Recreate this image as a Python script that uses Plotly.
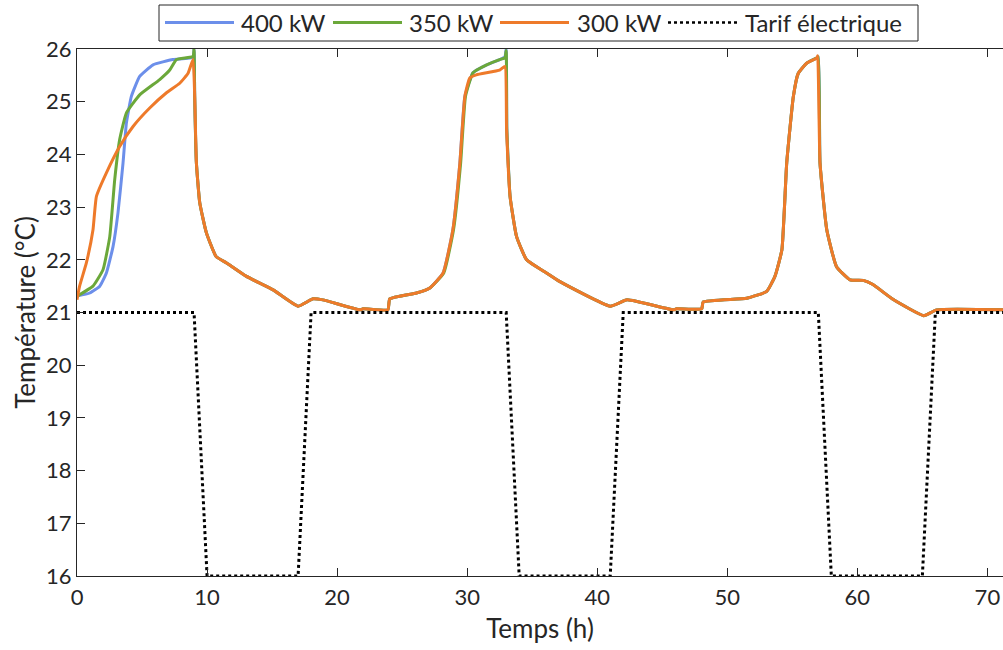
import plotly.graph_objects as go

# ---- data ----
t_400 = [0, 0.98, 1.75, 2.26, 2.77, 3.15, 3.54, 3.8, 4.18, 4.82, 5.85, 7.38, 8.92, 9.0,
         9.05, 9.18, 9.44, 9.95, 10.7, 11.5, 13.0, 15.08, 17.0, 18.15, 18.9, 21.75, 22.0, 23.9, 24.05,
         26.1, 27.1, 28.15, 28.9, 29.44, 29.82, 30.45, 31.5, 32.5, 32.9, 33.0,
         33.05, 33.3, 33.8, 34.57, 36.1, 37.1, 41.0, 42.3, 45.85, 46.1, 48.03, 48.15,
         51.5, 53.03, 53.67, 54.2, 54.57, 55.08, 55.46, 56.1, 56.88, 57.0,
         57.13, 57.65, 58.4, 59.44, 60.46, 61.2, 62.8, 65.1, 66.1, 71.5]
y_400 = [21.31, 21.37, 21.5, 21.75, 22.25, 22.89, 23.84, 24.6, 25.1, 25.48, 25.70, 25.8, 25.84, 25.99,
         25.1, 23.84, 23.08, 22.51, 22.06, 21.94, 21.69, 21.43, 21.12, 21.26, 21.24, 21.05, 21.07, 21.05, 21.26,
         21.37, 21.46, 21.75, 22.57, 23.84, 25.1, 25.55, 25.7, 25.8, 25.85, 26.0,
         24.47, 23.2, 22.44, 22.0, 21.75, 21.59, 21.12, 21.24, 21.05, 21.07, 21.07, 21.2,
         21.27, 21.4, 21.69, 22.19, 23.84, 25.1, 25.54, 25.73, 25.83, 25.85,
         23.84, 22.57, 21.87, 21.62, 21.61, 21.53, 21.24, 20.94, 21.05, 21.05]

t_350 = [0, 1.23, 2.0, 2.52, 2.9, 3.28, 3.8, 4.82, 6.36, 7.13, 7.65, 8.92, 9.0,
         9.05, 9.18, 9.44, 9.95, 10.7, 11.5, 13.0, 15.08, 17.0, 18.15, 18.9, 21.75, 22.0, 23.9, 24.05,
         26.1, 27.1, 28.2, 28.95, 29.5, 29.87, 30.45, 31.5, 32.5, 32.9, 33.0,
         33.05, 33.3, 33.8, 34.57, 36.1, 37.1, 41.0, 42.3, 45.85, 46.1, 48.03, 48.15,
         51.5, 53.03, 53.67, 54.2, 54.57, 55.08, 55.46, 56.1, 56.88, 57.0,
         57.13, 57.65, 58.4, 59.44, 60.46, 61.2, 62.8, 65.1, 66.1, 71.5]
y_350 = [21.31, 21.5, 21.81, 22.44, 23.52, 24.28, 24.79, 25.13, 25.42, 25.6, 25.8, 25.86, 25.99,
         25.1, 23.84, 23.08, 22.51, 22.06, 21.94, 21.69, 21.43, 21.12, 21.26, 21.24, 21.05, 21.07, 21.05, 21.26,
         21.37, 21.46, 21.75, 22.57, 23.84, 25.1, 25.55, 25.7, 25.8, 25.83, 25.97,
         24.47, 23.2, 22.44, 22.0, 21.75, 21.59, 21.12, 21.24, 21.05, 21.07, 21.07, 21.2,
         21.27, 21.4, 21.69, 22.19, 23.84, 25.1, 25.54, 25.73, 25.83, 25.85,
         23.84, 22.57, 21.87, 21.62, 21.61, 21.53, 21.24, 20.94, 21.05, 21.05]

t_300 = [0, 0.2, 0.72, 1.23, 1.49, 2.26, 3.28, 4.31, 5.59, 6.88, 7.9, 8.54, 8.92,
         9.05, 9.18, 9.44, 9.95, 10.7, 11.5, 13.0, 15.08, 17.0, 18.15, 18.9, 21.75, 22.0, 23.9, 24.05,
         26.1, 27.1, 28.15, 28.9, 29.44, 29.82, 30.2, 30.7, 32.5, 32.9,
         33.03, 33.3, 33.8, 34.57, 36.1, 37.1, 41.0, 42.3, 45.85, 46.1, 48.03, 48.15,
         51.5, 53.03, 53.67, 54.2, 54.57, 55.08, 55.46, 56.1, 56.88, 56.95,
         57.13, 57.65, 58.4, 59.44, 60.46, 61.2, 62.8, 65.1, 66.1, 71.5]
y_300 = [21.24, 21.5, 21.94, 22.57, 23.2, 23.65, 24.15, 24.53, 24.88, 25.17, 25.35, 25.54, 25.8,
         25.1, 23.84, 23.08, 22.51, 22.06, 21.94, 21.69, 21.43, 21.12, 21.26, 21.24, 21.05, 21.07, 21.05, 21.26,
         21.37, 21.46, 21.75, 22.57, 23.84, 25.1, 25.45, 25.51, 25.6, 25.67,
         24.47, 23.2, 22.44, 22.0, 21.75, 21.59, 21.12, 21.24, 21.05, 21.07, 21.07, 21.2,
         21.27, 21.4, 21.69, 22.19, 23.84, 25.1, 25.54, 25.73, 25.83, 25.87,
         23.84, 22.57, 21.87, 21.62, 21.61, 21.53, 21.24, 20.94, 21.05, 21.05]

t_tarif = [0, 9, 10, 17, 18, 33, 34, 41, 42, 57, 58, 65, 66, 71.5]
y_tarif = [21, 21, 16, 16, 21, 21, 16, 16, 21, 21, 16, 16, 21, 21]

names = ["400 kW", "350 kW", "300 kW", "Tarif électrique"]
colors = ["#6C8FEA", "#6BA83A", "#EE7A2A", "#000000"]
dashes = ["solid", "solid", "solid", "dot"]

FONT = "Lato"
TXT = "#262626"

W, H = 1003, 650
ML, MR, MT, MB = 77, 0, 49, 74
PW, PH = W - ML - MR, H - MT - MB


def px_x(p):  # page pixel -> paper x
    return (p - ML) / PW


def px_y(p):  # page pixel -> paper y
    return (H - MB - p) / PH


fig = go.Figure()
for t, y, n, c in [(t_400, y_400, names[0], colors[0]),
                   (t_350, y_350, names[1], colors[1]),
                   (t_300, y_300, names[2], colors[2])]:
    fig.add_trace(go.Scatter(x=t, y=y, mode="lines", name=n, showlegend=False,
                             line=dict(color=c, width=3, shape="spline", smoothing=0.4)))
fig.add_trace(go.Scatter(x=t_tarif, y=y_tarif, mode="lines", name=names[3], showlegend=False,
                         line=dict(color=colors[3], width=3, dash="dot")))

# ---- legend box drawn by hand (reference has long 70px line samples) ----
shapes = [dict(type="rect", xref="paper", yref="paper",
               x0=px_x(159), x1=px_x(918), y0=px_y(41), y1=px_y(5),
               line=dict(color="#262626", width=1), fillcolor="white", layer="above")]
annotations = []
seg_starts = [165, 333, 500, 668]
text_starts = [239, 407, 575, 743]
ly = px_y(22.5)
for i in range(4):
    shapes.append(dict(type="line", xref="paper", yref="paper",
                       x0=px_x(seg_starts[i]), x1=px_x(seg_starts[i] + 69), y0=ly, y1=ly,
                       line=dict(color=colors[i], width=3 if i < 3 else 2.5, dash=dashes[i]),
                       layer="above"))
    annotations.append(dict(xref="paper", yref="paper", x=px_x(text_starts[i]), y=ly,
                            xanchor="left", yanchor="middle", showarrow=False,
                            text=names[i], font=dict(family=FONT, size=24, color=TXT)))

fig.update_layout(
    width=W, height=H,
    margin=dict(l=ML, r=MR, t=MT, b=MB, autoexpand=False),
    paper_bgcolor="white", plot_bgcolor="white",
    font=dict(family=FONT, size=22, color=TXT),
    showlegend=False,
    shapes=shapes, annotations=annotations,
)
fig.update_xaxes(range=[0, 71.2], tickvals=[0, 10, 20, 30, 40, 50, 60, 70],
                 showline=True, linecolor="#262626", linewidth=1, mirror="ticks",
                 ticks="inside", ticklen=8, tickcolor="#262626", showgrid=False, zeroline=False,
                 ticklabelstandoff=2,
                 automargin=False, title=dict(text="Temps (h)", standoff=10))
fig.update_yaxes(range=[16, 26], tickvals=list(range(16, 27)),
                 showline=True, linecolor="#262626", linewidth=1, mirror=False,
                 ticks="inside", ticklen=8, tickcolor="#262626", showgrid=False, zeroline=False,
                 automargin=False, title=dict(text="Température (°C)", standoff=2))

# remove the browser's default 8px body margin so the figure fills the window exactly
fig.write_html("out.html", config={"displayModeBar": False},
               post_script="document.body.style.margin='0';document.body.style.overflow='hidden';")
